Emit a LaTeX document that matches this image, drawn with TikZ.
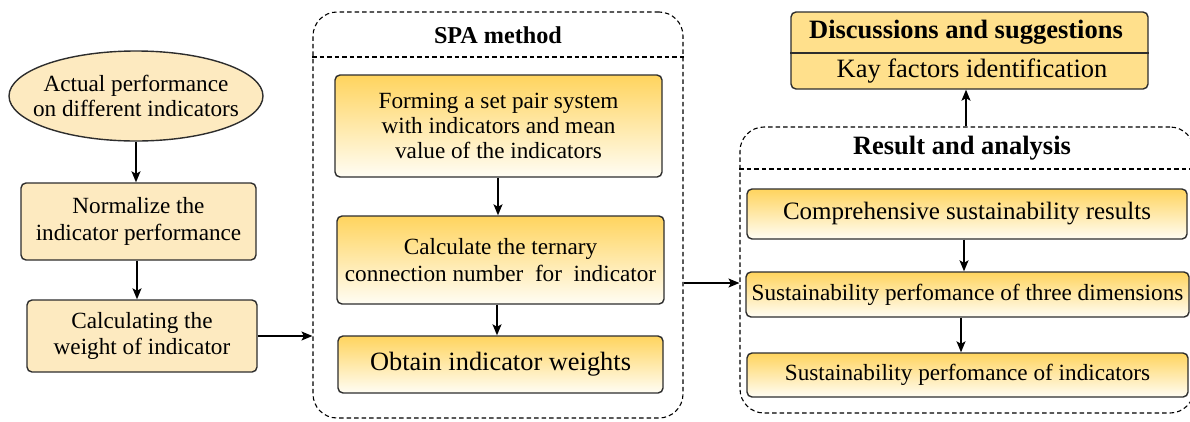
\documentclass[tikz,border=0pt]{standalone}
\usepackage{fontspec}
\setmainfont{Liberation Serif}
\usetikzlibrary{shapes.geometric,arrows.meta}

\definecolor{beige}{RGB}{253,234,192}
\definecolor{goldtop}{RGB}{255,212,94}
\definecolor{goldbot}{RGB}{255,253,244}
\definecolor{discfill}{RGB}{255,224,140}
\definecolor{edge}{RGB}{45,45,45}

\tikzset{
  basefont/.style={font=\fontsize{23.2}{26.5}\selectfont},
  plainbox/.style={rectangle, draw=edge, line width=1.4pt, rounded corners=5pt,
    fill=beige, align=center, inner sep=0pt, basefont},
  goldbox/.style={rectangle, draw=edge, line width=1.4pt, rounded corners=5pt,
    top color=goldtop, bottom color=goldbot, align=center, inner sep=0pt, basefont},
  groupbox/.style={rectangle, draw=black, line width=1.1pt, dash pattern=on 4.5pt off 3pt,
    rounded corners=24pt, inner sep=0pt},
  grouprule/.style={draw=black, line width=1.1pt, dash pattern=on 4.5pt off 3pt},
  flow/.style={-{Stealth[length=11pt,width=9pt,inset=2.5pt]}, line width=1.4pt, black},
}

\begin{document}
\begin{tikzpicture}[x=1pt,y=-1pt]
\useasboundingbox (0,0) rectangle (1190,421);

% ---- left column: data preparation ----
\node[ellipse, draw=edge, line width=1.4pt, fill=beige, inner sep=0pt,
      minimum width=254pt, minimum height=90pt] (perf) at (136,96) {};
\node[align=center, inner sep=0pt, font=\fontsize{23.2}{25}\selectfont]
  (perftext) at (perf.center) {Actual performance\\on different indicators};
\node[plainbox, minimum width=235pt, minimum height=77pt]
  (norm) at (138.5,221.5) {Normalize the\\indicator performance};
\node[plainbox, minimum width=230pt, minimum height=72pt]
  (calc) at (142,336) {Calculating the\\weight of indicator};

% ---- SPA method group ----
\node[groupbox, minimum width=370pt, minimum height=406pt] (spa) at (498,215) {};
\coordinate (spasep) at (498,57);
\draw[grouprule] (spa.west |- spasep) -- (spa.east |- spasep);
\node[font=\fontsize{24.2}{26}\selectfont\bfseries] (spatitle) at (498,35) {SPA method};

\node[goldbox, minimum width=327pt, minimum height=102pt,
      font=\fontsize{23.2}{25}\selectfont]
  (pair) at (498.5,126) {Forming a set pair system\\with indicators and mean\\value of the indicators};
\node[goldbox, minimum width=327pt, minimum height=88pt]
  (tern) at (500.5,260) {Calculate the ternary\\connection number~ for~ indicator};
\node[goldbox, minimum width=325pt, minimum height=57pt,
      font=\fontsize{26.4}{28}\selectfont]
  (wts) at (500.5,364.5) {Obtain indicator weights};

% ---- Result and analysis group ----
\node[groupbox, minimum width=454pt, minimum height=286pt] (res) at (967,270) {};
\coordinate (ressep) at (967,169);
\draw[grouprule] (res.west |- ressep) -- (res.east |- ressep);
\node[font=\fontsize{26.5}{28}\selectfont\bfseries] (restitle) at (962,148) {Result and analysis};

\node[goldbox, minimum width=440pt, minimum height=50pt,
      font=\fontsize{25}{27}\selectfont]
  (comp) at (967,214) {Comprehensive sustainability results};
\node[goldbox, minimum width=443pt, minimum height=45pt]
  (dims) at (967.5,294.5) {Sustainability perfomance of three dimensions};
\node[goldbox, minimum width=441pt, minimum height=44pt]
  (inds) at (967.5,375) {Sustainability perfomance of indicators};

% ---- Discussions box ----
\node[rectangle, draw=edge, line width=1.4pt, rounded corners=5pt, fill=discfill,
      minimum width=357pt, minimum height=77pt, inner sep=0pt] (disc) at (969.5,50.5) {};
\coordinate (discsep) at (969.5,53);
\draw[edge, line width=1.4pt] (disc.west |- discsep) -- (disc.east |- discsep);
\node[font=\fontsize{26.5}{28}\selectfont\bfseries] (disctitle) at (966,32.5) {Discussions and suggestions};
\node[font=\fontsize{26.5}{28}\selectfont] (kay) at (972,71) {Kay factors identification};

% ---- connectors ----
\draw[flow] (perf.south) -- (perf.south |- norm.north);
\coordinate (c1) at (137,0);
\draw[flow] (c1 |- norm.south) -- (c1 |- calc.north);
\draw[flow] (calc.east) -- (calc.east -| spa.west);
\coordinate (c2) at (498,0);
\draw[flow] (c2 |- pair.south) -- (c2 |- tern.north);
\coordinate (c3) at (497,0);
\draw[flow] (c3 |- tern.south) -- (c3 |- wts.north);
\coordinate (c4) at (0,283);
\draw[flow] (spa.east |- c4) -- (res.west |- c4);
\coordinate (c5) at (964,0);
\draw[flow] (c5 |- comp.south) -- (c5 |- dims.north);
\coordinate (c6) at (961,0);
\draw[flow] (c6 |- dims.south) -- (c6 |- inds.north);
\coordinate (c7) at (966,0);
\draw[flow] (c7 |- res.north) -- (c7 |- disc.south);
\end{tikzpicture}
\end{document}
